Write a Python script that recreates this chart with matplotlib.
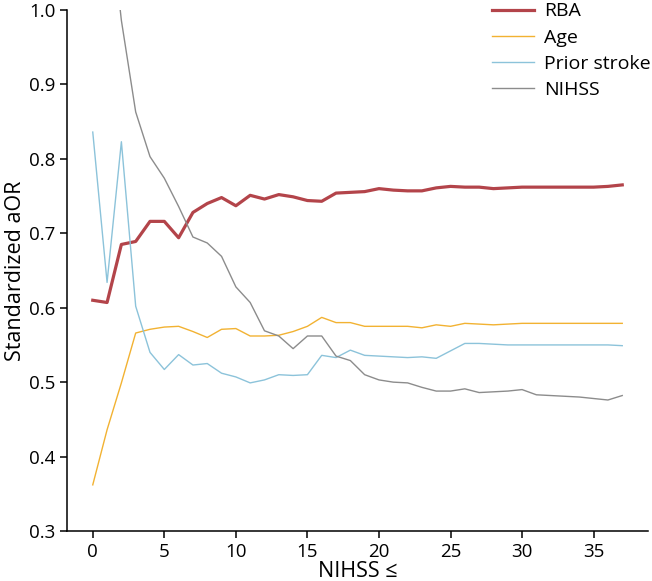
import numpy as np
import matplotlib
matplotlib.use("Agg")
import matplotlib.pyplot as plt

plt.rcParams['font.family'] = ['Open Sans', 'DejaVu Sans']

nihss_cut = list(range(0, 38))

rba = [0.610, 0.607, 0.685, 0.689, 0.716, 0.716, 0.694, 0.728, 0.740, 0.748,
       0.737, 0.751, 0.746, 0.752, 0.749, 0.744, 0.743, 0.754, 0.755, 0.756,
       0.760, 0.758, 0.757, 0.757, 0.761, 0.763, 0.762, 0.762, 0.760, 0.761,
       0.762, 0.762, 0.762, 0.762, 0.762, 0.762, 0.763, 0.765]

age = [0.362, 0.436, 0.499, 0.566, 0.571, 0.574, 0.575, 0.568, 0.560, 0.571,
       0.572, 0.562, 0.562, 0.563, 0.568, 0.575, 0.587, 0.580, 0.580, 0.575,
       0.575, 0.575, 0.575, 0.573, 0.577, 0.575, 0.579, 0.578, 0.577, 0.578,
       0.579, 0.579, 0.579, 0.579, 0.579, 0.579, 0.579, 0.579]

prior_stroke = [0.836, 0.634, 0.823, 0.602, 0.540, 0.517, 0.537, 0.523, 0.525, 0.512,
                0.507, 0.499, 0.503, 0.510, 0.509, 0.510, 0.536, 0.533, 0.543, 0.536,
                0.535, 0.534, 0.533, 0.534, 0.532, 0.542, 0.552, 0.552, 0.551, 0.550,
                0.550, 0.550, 0.550, 0.550, 0.550, 0.550, 0.550, 0.549]

# NIHSS <= 0 is undefined; NIHSS <= 1 runs off the top of the axis
nihss = [np.nan, 1.16, 0.986, 0.863, 0.803, 0.774, 0.736, 0.695, 0.687, 0.669,
         0.628, 0.607, 0.569, 0.562, 0.545, 0.562, 0.562, 0.535, 0.529, 0.510,
         0.503, 0.500, 0.499, 0.493, 0.488, 0.488, 0.491, 0.486, 0.487, 0.488,
         0.490, 0.483, 0.482, 0.481, 0.480, 0.478, 0.476, 0.482]

fig = plt.figure(figsize=(6.52, 5.81), dpi=100)
ax = fig.add_axes([67 / 652, 50 / 581, 581 / 652, 521 / 581])

ax.plot(nihss_cut, rba, color='#b3444a', lw=2.3, label='RBA')
ax.plot(nihss_cut, age, color='#f2b232', lw=1.0, label='Age')
ax.plot(nihss_cut, prior_stroke, color='#8cc3da', lw=1.0, label='Prior stroke')
ax.plot(nihss_cut, nihss, color='#8c8c8c', lw=1.0, label='NIHSS')

ax.set_xlim(-1.8, 38.8)
ax.set_ylim(0.3, 1.0)
ax.set_xticks(range(0, 40, 5))
yticks = np.arange(0.3, 1.01, 0.1)
ax.set_yticks(yticks)
ax.set_yticklabels([f"{v:.1f}" for v in yticks])

for s in ['top', 'right']:
    ax.spines[s].set_visible(False)
for s in ['left', 'bottom']:
    ax.spines[s].set_linewidth(1.1)
ax.tick_params(labelsize=13.5, length=5, width=1.1, direction='out')

ax.set_xlabel('NIHSS ≤', fontsize=15.5, labelpad=0)
ax.set_ylabel('Standardized aOR', fontsize=15.5, labelpad=2)

ax.legend(loc='upper right', bbox_to_anchor=(1.034, 1.048), frameon=False,
          fontsize=14, handlelength=2.15, handletextpad=0.5, labelspacing=0.42)

fig.savefig('out.png', dpi=100)
